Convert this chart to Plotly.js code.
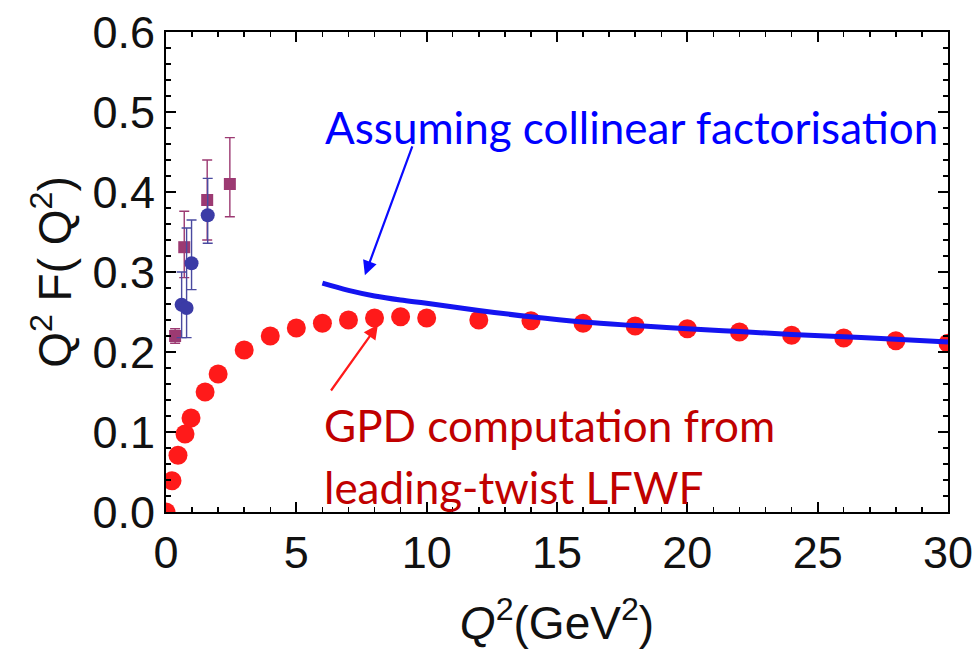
<!DOCTYPE html>
<html>
<head>
<meta charset="utf-8">
<script src="https://cdn.plot.ly/plotly-3.0.1.min.js"></script>
<style>
  html, body { margin: 0; padding: 0; background: #fff; }
  #chart { width: 980px; height: 656px; }
</style>
</head>
<body>
<div id="chart"></div>
<script>
// GPD computation from the leading-twist LFWF (red dots)
const gpdQ2 = [0, 0.23, 0.46, 0.73, 0.96, 1.5, 2, 3, 4, 5, 6, 7, 8, 9, 10, 12, 14, 16, 18, 20, 22, 24, 26, 28, 30];
const gpdF  = [0.0, 0.039, 0.071, 0.0975, 0.1175, 0.15, 0.1725, 0.2025, 0.22, 0.23, 0.236, 0.24, 0.2425, 0.244, 0.2425, 0.24, 0.239, 0.236, 0.2325, 0.229, 0.225, 0.221, 0.2175, 0.214, 0.211];

// Collinear factorisation curve (blue line)
const pqcdQ2 = [6, 7, 8, 9, 10, 12, 14, 16, 18, 20, 22, 24, 26, 28, 30];
const pqcdF  = [0.286, 0.277, 0.270, 0.265, 0.261, 0.252, 0.244, 0.2375, 0.233, 0.229, 0.2255, 0.222, 0.219, 0.216, 0.2125];

// Measurements, circles
const circQ2   = [0.6, 0.79, 0.98, 1.6];
const circF    = [0.259, 0.255, 0.311, 0.371];
const circErrP = [0.041, 0.10, 0.054, 0.046];
const circErrM = [0.041, 0.037, 0.033, 0.035];

// Measurements, squares
const sqQ2   = [0.35, 0.70, 1.58, 2.45];
const sqF    = [0.22, 0.331, 0.39, 0.41];
const sqErrP = [0.009, 0.045, 0.05, 0.058];
const sqErrM = [0.009, 0.038, 0.05, 0.041];

const xTicks = [0, 5, 10, 15, 20, 25, 30];
const yTicks = [0.0, 0.1, 0.2, 0.3, 0.4, 0.5, 0.6];

const traces = [
  {
    x: gpdQ2, y: gpdF, type: 'scatter', mode: 'markers',
    marker: { color: '#ff1a1a', size: 19, line: { width: 0 } },
    cliponaxis: true
  },
  {
    x: pqcdQ2, y: pqcdF, type: 'scatter', mode: 'lines',
    line: { color: '#1414f0', width: 5, shape: 'spline' },
    cliponaxis: true
  },
  {
    x: sqQ2, y: sqF, type: 'scatter', mode: 'markers',
    marker: { color: '#9c3a72', size: 12, symbol: 'square' },
    error_y: { type: 'data', symmetric: false, array: sqErrP, arrayminus: sqErrM,
               color: '#9c3a72', thickness: 1.4, width: 5 }
  },
  {
    x: circQ2, y: circF, type: 'scatter', mode: 'markers',
    marker: { color: '#3b3ba6', size: 14, symbol: 'circle' },
    error_y: { type: 'data', symmetric: false, array: circErrP, arrayminus: circErrM,
               color: '#4a4aa0', thickness: 1.4, width: 5 }
  }
];

const sans = 'Liberation Sans, Arial, sans-serif';
const tickFont = { family: sans, size: 45, color: '#111' };
const noteFont = 'Lato, Open Sans, sans-serif';

const layout = {
  width: 980, height: 656,
  margin: { l: 166, r: 32, t: 32, b: 144 },
  paper_bgcolor: '#fff', plot_bgcolor: '#fff',
  showlegend: false,
  xaxis: {
    range: [0, 30], tickvals: xTicks, ticktext: xTicks.map(String),
    ticks: 'inside', ticklen: 10, tickwidth: 2, tickcolor: '#000',
    minor: { ticks: 'inside', dtick: 1, ticklen: 5, tickwidth: 1.5, tickcolor: '#000' },
    showline: true, linecolor: '#000', linewidth: 2, mirror: 'allticks',
    showgrid: false, zeroline: false,
    tickfont: tickFont, ticklabelstandoff: 0,
    title: { text: '<i>Q</i><sup>2</sup>(GeV<sup>2</sup>)', font: { family: sans, size: 46, color: '#111' }, standoff: 30 }
  },
  yaxis: {
    range: [0, 0.6], tickvals: yTicks, ticktext: yTicks.map(v => v.toFixed(1)),
    ticks: 'inside', ticklen: 10, tickwidth: 2, tickcolor: '#000',
    minor: { ticks: 'inside', dtick: 0.02, ticklen: 5, tickwidth: 1.5, tickcolor: '#000' },
    showline: true, linecolor: '#000', linewidth: 2, mirror: 'allticks',
    showgrid: false, zeroline: false,
    tickfont: tickFont, ticklabelstandoff: 0,
    title: { text: 'Q<sup>2</sup> F( Q<sup>2</sup>)', font: { family: sans, size: 46, color: '#111' }, standoff: 6 }
  },
  annotations: [
    {
      x: 17.84, y: 0.481, xref: 'x', yref: 'y', showarrow: false,
      text: 'Assuming collinear factorisation',
      font: { family: noteFont, size: 44, color: '#0000ff' }
    },
    {
      x: 7.63, y: 0.296, ax: 9.47, ay: 0.459, xref: 'x', yref: 'y', axref: 'x', ayref: 'y',
      text: '', showarrow: true, arrowhead: 2, arrowsize: 1.3, arrowwidth: 2.2, arrowcolor: '#0a0aff'
    },
    {
      x: 8.13, y: 0.234, ax: 6.29, ay: 0.15, xref: 'x', yref: 'y', axref: 'x', ayref: 'y',
      text: '', showarrow: true, arrowhead: 2, arrowsize: 1.3, arrowwidth: 2.2, arrowcolor: '#ff1a1a'
    },
    {
      x: 5.98, y: 0.109, xref: 'x', yref: 'y', xanchor: 'left', yanchor: 'middle', align: 'left',
      showarrow: false, text: 'GPD computation from',
      font: { family: noteFont, size: 44, color: '#c00000' }
    },
    {
      x: 5.98, y: 0.031, xref: 'x', yref: 'y', xanchor: 'left', yanchor: 'middle', align: 'left',
      showarrow: false, text: 'leading-twist LFWF',
      font: { family: noteFont, size: 44, color: '#c00000' }
    }
  ]
};

Plotly.newPlot('chart', traces, layout, { displayModeBar: false, staticPlot: true });
</script>
</body>
</html>
